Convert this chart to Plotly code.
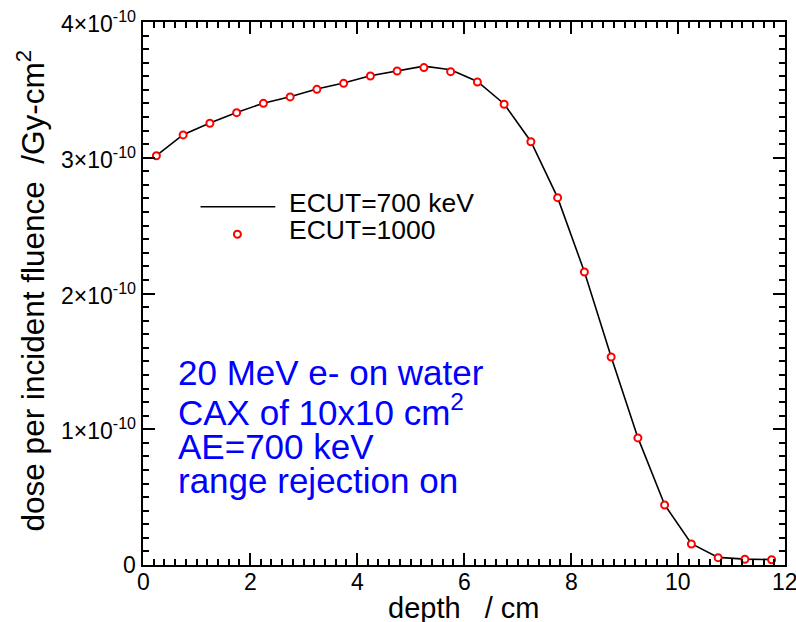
import plotly.graph_objects as go

# ---- data ----
depth = [0.25, 0.75, 1.25, 1.75, 2.25, 2.75, 3.25, 3.75, 4.25, 4.75, 5.25, 5.75,
         6.25, 6.75, 7.25, 7.75, 8.25, 8.75, 9.25, 9.75, 10.25, 10.75, 11.25, 11.75]
dose_ecut1000 = [3.015, 3.168, 3.254, 3.332, 3.401, 3.448, 3.504, 3.548, 3.602, 3.639, 3.664, 3.634,
                 3.558, 3.394, 3.118, 2.706, 2.158, 1.532, 0.936, 0.442, 0.155, 0.054, 0.042, 0.039]
dose_ecut700 = [3.015, 3.170, 3.256, 3.334, 3.402, 3.450, 3.506, 3.550, 3.604, 3.642, 3.675, 3.648,
                3.562, 3.396, 3.120, 2.706, 2.160, 1.534, 0.938, 0.444, 0.157, 0.056, 0.043, 0.040]
scale = 1e-10
y_tickvals = [0, 1e-10, 2e-10, 3e-10, 4e-10]
y_ticktext = ["0", "1×10<sup>-10</sup>", "2×10<sup>-10</sup>", "3×10<sup>-10</sup>", "4×10<sup>-10</sup>"]
x_tickvals = [0, 2, 4, 6, 8, 10, 12]
x_ticktext = ["0", "2", "4", "6", "8", "10", "12"]
legend_labels = ["ECUT=700 keV", "ECUT=1000"]
note_lines = ["20 MeV e- on water", "CAX of 10x10 cm<sup>2</sup>", "AE=700 keV", "range rejection on"]

FONT = "Liberation Sans"

fig = go.Figure()
fig.add_trace(go.Scatter(x=depth, y=[v * scale for v in dose_ecut700], mode="lines",
                         line=dict(color="black", width=1.6), name=legend_labels[0],
                         showlegend=False))
fig.add_trace(go.Scatter(x=depth, y=[v * scale for v in dose_ecut1000], mode="markers",
                         marker=dict(symbol="circle", size=7, color="white",
                                     line=dict(color="red", width=2)),
                         name=legend_labels[1], showlegend=False))

fig.update_layout(
    xaxis=dict(range=[0, 12], tickmode="array", tickvals=x_tickvals,
               showline=True, linecolor="black", linewidth=2, mirror="ticks",
               ticks="inside", ticklen=12, tickwidth=2, tickcolor="black",
               showgrid=False, zeroline=False, showticklabels=False,
               minor=dict(tickmode="linear", tick0=0, dtick=0.2, ticks="inside",
                          ticklen=6, tickwidth=2, tickcolor="black")),
    yaxis=dict(range=[0, 4e-10], tickmode="array", tickvals=y_tickvals,
               showline=True, linecolor="black", linewidth=2, mirror="ticks",
               ticks="inside", ticklen=12, tickwidth=2, tickcolor="black",
               showgrid=False, zeroline=False, showticklabels=False,
               minor=dict(tickmode="linear", tick0=0, dtick=1e-11, ticks="inside",
                          ticklen=6, tickwidth=2, tickcolor="black")),
)

plot_top, plot_h, plot_left, plot_w = 22, 543, 143, 644
tickfont = dict(family=FONT, size=23, color="black")
annotations = []

# tick labels (drawn as text anchored to the axis scales)
for v, t in zip(x_tickvals, x_ticktext):
    annotations.append(dict(text=t, xref="x", yref="paper", x=v, y=-0.006,
                            xanchor="center", yanchor="top", showarrow=False,
                            font=tickfont, borderpad=0))
for v, t in zip(y_tickvals, y_ticktext):
    annotations.append(dict(text=t, xref="paper", yref="y", x=-0.0093, y=v,
                            xanchor="right", yanchor="middle", showarrow=False,
                            font=tickfont, borderpad=0))

# axis titles
annotations.append(dict(text="depth\u00a0\u00a0\u00a0/ cm", xref="paper", yref="paper",
                        x=0.5, y=-0.08, xanchor="center", yanchor="middle", showarrow=False,
                        font=dict(family=FONT, size=29, color="black")))
annotations.append(dict(text="dose per incident fluence\u00a0\u00a0/Gy-cm<sup>2</sup>",
                        xref="paper", yref="paper", x=-0.175, y=0.505, textangle=-90,
                        xanchor="center", yanchor="middle", showarrow=False,
                        font=dict(family=FONT, size=31.5, color="black")))

# note lines
note_y = [372.5, 409.5, 446.2, 480.2]
for txt, yp in zip(note_lines, note_y):
    annotations.append(dict(text=txt, xref="paper", yref="paper",
                            x=(176 - plot_left) / plot_w, y=(plot_top + plot_h - yp) / plot_h,
                            xanchor="left", yanchor="middle", showarrow=False,
                            font=dict(family=FONT, size=35, color="#0000ff")))

# manual legend
leg_y = [206.7, 234.3]
for txt, yp in zip(legend_labels, leg_y):
    annotations.append(dict(text=txt, xref="paper", yref="paper",
                            x=(287 - plot_left) / plot_w, y=(plot_top + plot_h - yp + 4) / plot_h,
                            xanchor="left", yanchor="middle", showarrow=False,
                            font=dict(family=FONT, size=26.5, color="black")))

shapes = [
    dict(type="line", xref="paper", yref="paper",
         x0=(200.7 - plot_left) / plot_w, x1=(275.7 - plot_left) / plot_w,
         y0=(plot_top + plot_h - leg_y[0]) / plot_h, y1=(plot_top + plot_h - leg_y[0]) / plot_h,
         line=dict(color="black", width=1.6)),
    dict(type="circle", xref="paper", yref="paper", xsizemode="pixel", ysizemode="pixel",
         xanchor=(237.7 - plot_left) / plot_w, yanchor=(plot_top + plot_h - leg_y[1]) / plot_h,
         x0=-3.5, x1=3.5, y0=-3.5, y1=3.5,
         line=dict(color="red", width=2), fillcolor="white"),
]

fig.update_layout(width=796, height=622, autosize=False,
                  margin=dict(l=143, r=9, t=22, b=57),
                  paper_bgcolor="white", plot_bgcolor="white",
                  font=dict(family=FONT, size=23, color="black"),
                  annotations=annotations, shapes=shapes, showlegend=False)

fig.write_html("out.html")
